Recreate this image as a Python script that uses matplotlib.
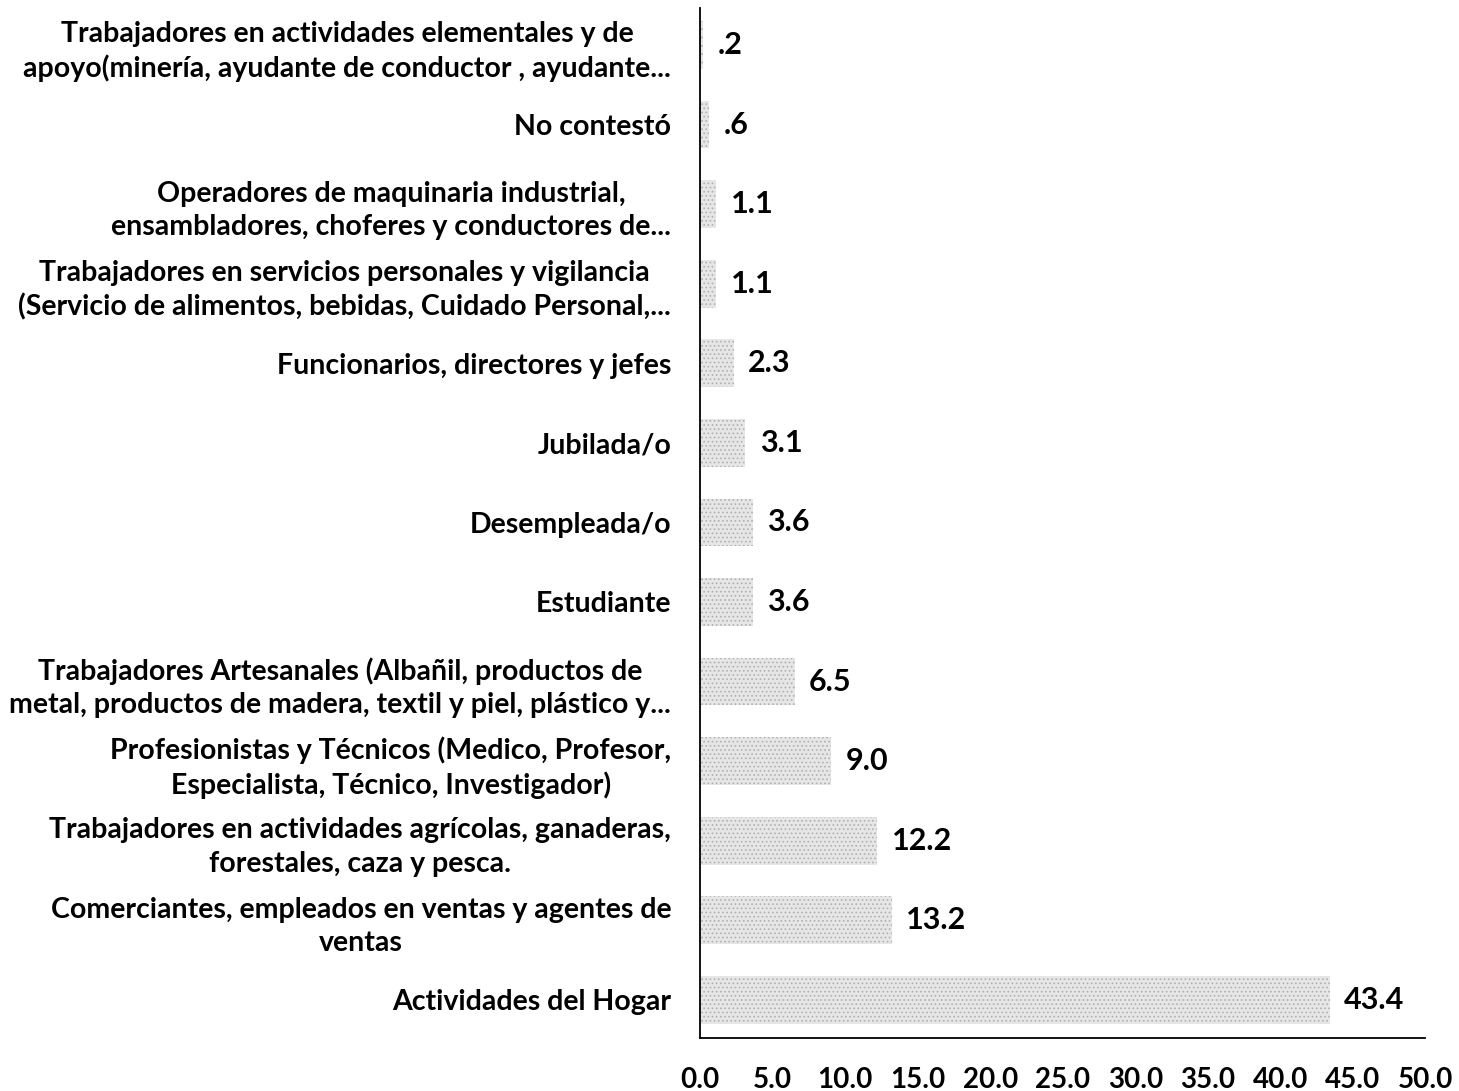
import matplotlib
matplotlib.use('Agg')
import matplotlib.pyplot as plt
import numpy as np

# Datos (de abajo hacia arriba)
categorias = [
    'Actividades del Hogar',
    'Comerciantes, empleados en ventas y agentes de\nventas',
    'Trabajadores en actividades agrícolas, ganaderas,\nforestales, caza y pesca.',
    'Profesionistas y Técnicos (Medico, Profesor,\nEspecialista, Técnico, Investigador)',
    'Trabajadores Artesanales (Albañil, productos de\nmetal, productos de madera, textil y piel, plástico y...',
    'Estudiante',
    'Desempleada/o',
    'Jubilada/o',
    'Funcionarios, directores y jefes',
    'Trabajadores en servicios personales y vigilancia\n(Servicio de alimentos, bebidas, Cuidado Personal,...',
    'Operadores de maquinaria industrial,\nensambladores, choferes y conductores de...',
    'No contestó',
    'Trabajadores en actividades elementales y de\napoyo(minería, ayudante de conductor , ayudante...',
]
valores = [43.4, 13.2, 12.2, 9.0, 6.5, 3.6, 3.6, 3.1, 2.3, 1.1, 1.1, 0.6, 0.2]
etiquetas = ['43.4', '13.2', '12.2', '9.0', '6.5', '3.6', '3.6', '3.1', '2.3', '1.1', '1.1', '.6', '.2']
xticks = [0, 5, 10, 15, 20, 25, 30, 35, 40, 45, 50]

plt.rcParams['font.family'] = ['Lato', 'DejaVu Sans']
plt.rcParams['font.weight'] = 'bold'
plt.rcParams['hatch.linewidth'] = 0.7

fig = plt.figure(figsize=(14.59, 10.91), dpi=100)
ax = fig.add_axes([0.480, 0.0486, 0.497, 0.9444])

pos = np.arange(len(categorias))
ax.barh(pos, valores, height=0.6, color='#e6e6e6', edgecolor='#b0b0b0',
        hatch='....', linewidth=0)

for p, v, t in zip(pos, valores, etiquetas):
    ax.text(v + 1.0, p, t, va='center', ha='left', fontsize=22, fontweight='bold')

ax.set_xlim(0, 50)
ax.set_ylim(-0.48, 12.47)
ax.set_xticks(xticks)
ax.set_xticklabels([f'{t:.1f}' for t in xticks], fontsize=20, fontweight='bold')
ax.set_yticks(pos)
ax.set_yticklabels(categorias, fontsize=20.5, fontweight='bold', multialignment='center',
                   linespacing=1.35)

ax.tick_params(axis='x', length=0, pad=21)
ax.tick_params(axis='y', length=0, pad=21)
ax.spines['top'].set_visible(False)
ax.spines['right'].set_visible(False)
ax.spines['left'].set_linewidth(1.3)
ax.spines['bottom'].set_linewidth(1.3)

plt.savefig('out.png', dpi=100)
